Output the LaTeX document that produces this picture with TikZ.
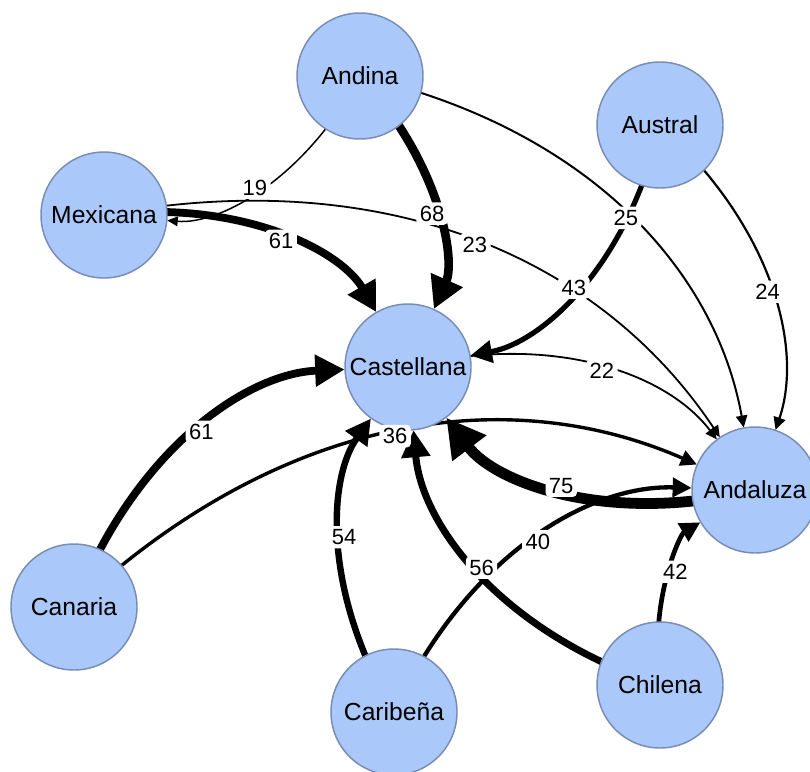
\documentclass[tikz,border=0pt]{standalone}
\usepackage{fontspec}
\setmainfont{Liberation Sans}
\usetikzlibrary{calc,arrows.meta}
\pgfdeclarelayer{edges}
\pgfsetlayers{edges,main}
\definecolor{nodefill}{RGB}{170,200,250}
\definecolor{nodeline}{RGB}{120,140,180}

\tikzset{
  dialect/.style={circle, minimum size=94.5pt, inner sep=0pt, fill=nodefill,
    draw=nodeline, line width=1.1pt, font=\fontsize{18.5}{20}\selectfont},
  link/.style={draw=black, line width=#1*0.75pt,
    -{Triangle[length=4.5pt 3.0, width=3.5pt 3.3]}, shorten >=47.6pt},
  weight/.style={fill=white, inner sep=2.6pt, rounded corners=3pt,
    font=\fontsize{16.5}{18}\selectfont},
}

% #1 width (px), #2 source, #3 target, #4 weight label
\newcommand\flowlink[4]{%
  \coordinate (bendpt) at ($(#2.center)!0.5!(#3.center)!0.66!90:(#3.center)$);
  \begin{pgfonlayer}{edges}
    \draw[link=#1] (#2.center) .. controls ($(#2.center)!2/3!(bendpt)$)
      and ($(#3.center)!2/3!(bendpt)$) .. (#3.center);
  \end{pgfonlayer}
  \path (#2.center) .. controls ($(#2.center)!2/3!(bendpt)$)
      and ($(#3.center)!2/3!(bendpt)$) .. (#3.center)
      node[weight, pos=0.5] {#4};
}

\begin{document}
\begin{tikzpicture}[x=0.75pt, y=-0.75pt]
\useasboundingbox (0,0) rectangle (810,771);

\node[dialect] (An) at (360,76)  {Andina};
\node[dialect] (Au) at (660,125) {Austral};
\node[dialect] (Me) at (104,215) {Mexicana};
\node[dialect] (Ca) at (408,367) {Castellana};
\node[dialect] (Ad) at (755,490) {Andaluza};
\node[dialect] (Cn) at (74,607)  {Canaria};
\node[dialect] (Cb) at (394,712) {Caribeña};
\node[dialect] (Ch) at (660,685) {Chilena};

\flowlink{1.5}{An}{Me}{19}
\flowlink{8.6}{An}{Ca}{68}
\flowlink{2.0}{An}{Ad}{25}
\flowlink{7.8}{Me}{Ca}{61}
\flowlink{1.8}{Me}{Ad}{23}
\flowlink{5.2}{Au}{Ca}{43}
\flowlink{2.2}{Au}{Ad}{24}
\flowlink{1.8}{Ca}{Ad}{22}
\flowlink{7.8}{Cn}{Ca}{61}
\flowlink{3.4}{Cn}{Ad}{36}
\flowlink{6.4}{Cb}{Ca}{54}
\flowlink{4.3}{Cb}{Ad}{40}
\flowlink{7.0}{Ch}{Ca}{56}
\flowlink{10.8}{Ad}{Ca}{75}
\flowlink{4.7}{Ch}{Ad}{42}
\end{tikzpicture}
\end{document}
